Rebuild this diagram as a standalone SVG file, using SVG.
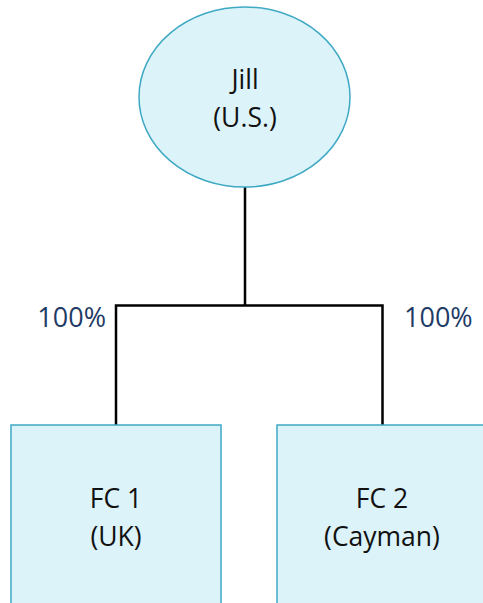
<svg xmlns="http://www.w3.org/2000/svg" width="483" height="603" viewBox="0 0 483 603">
<style>
.node{fill:#dcf3f9;stroke:#3fa9c4;stroke-width:1.5}
.lbl{font-family:"Open Sans","Noto Sans",sans-serif;font-size:26.5px;fill:#111;text-anchor:middle}
.pct{font-family:"Open Sans","Noto Sans",sans-serif;font-size:27px;fill:#1f3b66}
.conn{fill:none;stroke:#000;stroke-width:2.5}
</style>
<rect width="483" height="603" fill="#fff"/>
<g id="connectors">
<path class="conn" d="M245 187V305.5M116 305.5H382.5M116 304.3V425M382.5 304.3V425"/>
</g>
<g id="jill">
<ellipse class="node" cx="244.5" cy="97" rx="105.5" ry="90"/>
<text class="lbl" x="245" y="89">Jill</text>
<text class="lbl" x="245" y="126.5">(U.S.)</text>
</g>
<g id="fc1">
<rect class="node" x="11" y="425" width="210" height="190"/>
<text class="lbl" x="116" y="508">FC 1</text>
<text class="lbl" x="116" y="545.5">(UK)</text>
</g>
<g id="fc2">
<rect class="node" x="277" y="425" width="210" height="190"/>
<text class="lbl" x="382" y="508">FC 2</text>
<text class="lbl" x="382" y="545.5">(Cayman)</text>
</g>
<g id="labels">
<text class="pct" x="106" y="326.5" text-anchor="end">100%</text>
<text class="pct" x="404" y="326.5">100%</text>
</g>
</svg>
